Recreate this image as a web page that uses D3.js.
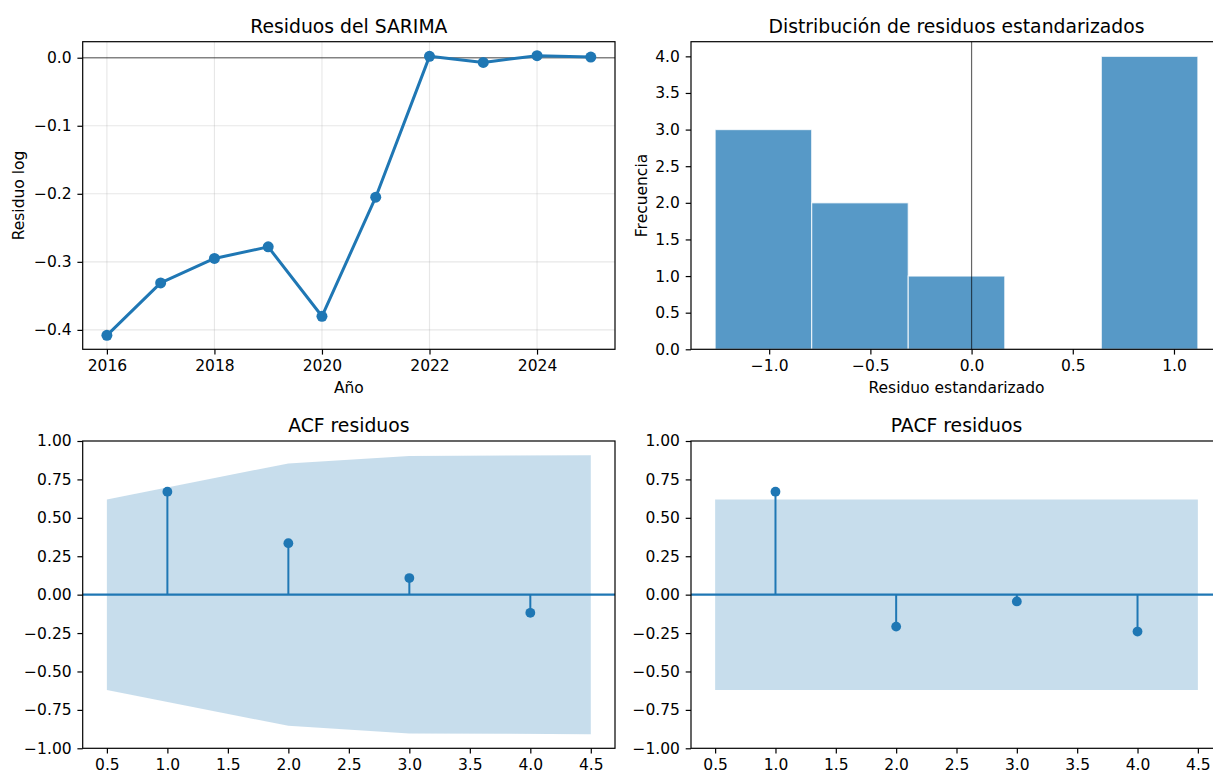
<!DOCTYPE html>
<html><head><meta charset="utf-8">
<script src="https://cdn.jsdelivr.net/npm/d3@7"></script>
<style>
body{margin:0;background:#fff;}
svg{display:block;font-family:"DejaVu Sans",sans-serif;}
</style></head>
<body><svg id="c" width="1213" height="773"></svg>
<script>
// ---- data ----
const years = [2016,2017,2018,2019,2020,2021,2022,2023,2024,2025];
const residuals = [-0.408,-0.331,-0.295,-0.278,-0.380,-0.205,0.002,-0.007,0.003,0.001];
const histEdges = [-1.267,-0.790,-0.313,0.164,0.641,1.118];
const histCounts = [3,2,1,0,4];
const lags = [1,2,3,4];
const acfValues = [0.670,0.335,0.108,-0.118];
const acfConf = [0.620,0.854,0.903,0.908];
const pacfValues = [0.670,-0.208,-0.044,-0.240];
const pacfConf = [0.620,0.620,0.620,0.620];
const yearTicks = [2016,2018,2020,2022,2024];
const residTicks = [0.0,-0.1,-0.2,-0.3,-0.4];
const histXTicks = [-1.0,-0.5,0.0,0.5,1.0];
const histYTicks = [0,0.5,1,1.5,2,2.5,3,3.5,4];
const corrYTicks = [1,0.75,0.5,0.25,0,-0.25,-0.5,-0.75,-1];
const lagTicks = [0.5,1,1.5,2,2.5,3,3.5,4,4.5];
const titles = ["Residuos del SARIMA","Distribución de residuos estandarizados","ACF residuos","PACF residuos"];

const BLUE = "#1f77b4";
const FS = 15.5, TFS = 18.8, TL = 5.3, TP = 5.8, SW = 1.2;
const svg = d3.select("#c");
const cols = [[82.7,615],[691,1222]];
const rows = [[41.7,349.3],[441,748.3]];
const fmtMinus = s => s.replace("-", "\u2212");

function frame(g, xs, ys, xt, yt, xf, yf, title, xlabel, ylabel, ylabX){
  const [x0,x1] = xs.range(), [y1,y0] = ys.range();
  const ax = g.append("g").attr("transform",`translate(0,${y1})`)
    .call(d3.axisBottom(xs).tickValues(xt).tickFormat(d=>fmtMinus(xf(d))).tickSizeOuter(0).tickSize(TL).tickPadding(TP-0.8));
  const ay = g.append("g").attr("transform",`translate(${x0},0)`)
    .call(d3.axisLeft(ys).tickValues(yt).tickFormat(d=>fmtMinus(yf(d))).tickSizeOuter(0).tickSize(TL).tickPadding(TP));
  [ax,ay].forEach(a=>{
    a.select(".domain").remove();
    a.selectAll(".tick line").attr("stroke","#000").attr("stroke-width",SW);
    a.selectAll(".tick text").attr("fill","#000").attr("font-size",FS).attr("font-family","DejaVu Sans");
  });
  g.append("rect").attr("x",x0).attr("y",y0).attr("width",x1-x0).attr("height",y1-y0)
    .attr("fill","none").attr("stroke","#000").attr("stroke-width",SW);
  g.append("text").attr("x",(x0+x1)/2).attr("y",y0-9.2).attr("text-anchor","middle")
    .attr("font-size",TFS).attr("fill","#000").text(title);
  if(xlabel) g.append("text").attr("x",(x0+x1)/2).attr("y",y1+43.5).attr("text-anchor","middle")
    .attr("font-size",FS).attr("fill","#000").text(xlabel);
  if(ylabel) g.append("text").attr("transform",`translate(${ylabX},${(y0+y1)/2}) rotate(-90)`)
    .attr("text-anchor","middle").attr("font-size",FS).attr("fill","#000").text(ylabel);
}
function pad(ext, m){ const r = ext[1]-ext[0]; return [ext[0]-m*r, ext[1]+m*r]; }

// ---- Panel 1: residuals line ----
{
  const g = svg.append("g");
  const x = d3.scaleLinear().domain(pad(d3.extent(years),0.05)).range(cols[0]);
  const y = d3.scaleLinear().domain(pad(d3.extent(residuals),0.05)).range([rows[0][1],rows[0][0]]);
  g.selectAll(".gx").data(yearTicks).join("line").attr("x1",d=>x(d)).attr("x2",d=>x(d))
    .attr("y1",rows[0][0]).attr("y2",rows[0][1]).attr("stroke","#b0b0b0").attr("stroke-opacity",0.3).attr("stroke-width",1.1);
  g.selectAll(".gy").data(residTicks).join("line").attr("y1",d=>y(d)).attr("y2",d=>y(d))
    .attr("x1",cols[0][0]).attr("x2",cols[0][1]).attr("stroke","#b0b0b0").attr("stroke-opacity",0.3).attr("stroke-width",1.1);
  g.append("line").attr("x1",cols[0][0]).attr("x2",cols[0][1]).attr("y1",y(0)).attr("y2",y(0))
    .attr("stroke","#000").attr("stroke-opacity",0.45).attr("stroke-width",1.6);
  const pts = years.map((d,i)=>[d,residuals[i]]);
  g.append("path").attr("d",d3.line().x(d=>x(d[0])).y(d=>y(d[1]))(pts))
    .attr("fill","none").attr("stroke",BLUE).attr("stroke-width",3).attr("stroke-linejoin","round");
  g.selectAll(".pt").data(pts).join("circle").attr("cx",d=>x(d[0])).attr("cy",d=>y(d[1])).attr("r",5.5).attr("fill",BLUE);
  frame(g,x,y,yearTicks,residTicks,d=>String(d),d=>d3.format(".1f")(d),titles[0],"Año","Residuo log",23.5);
}
// ---- Panel 2: histogram ----
{
  const g = svg.append("g");
  const x = d3.scaleLinear().domain(pad(d3.extent(histEdges),0.05)).range(cols[1]);
  const y = d3.scaleLinear().domain([0, d3.max(histCounts)*1.05]).range([rows[0][1],rows[0][0]]);
  const bins = histCounts.map((c,i)=>({x0:histEdges[i],x1:histEdges[i+1],c}));
  g.selectAll(".bar").data(bins.filter(b=>b.c>0)).join("rect")
    .attr("x",d=>x(d.x0)).attr("width",d=>x(d.x1)-x(d.x0))
    .attr("y",d=>y(d.c)).attr("height",d=>y(0)-y(d.c))
    .attr("fill","#5799c7").attr("stroke","#fff").attr("stroke-opacity",0.75).attr("stroke-width",1.2);
  g.append("line").attr("x1",x(0)).attr("x2",x(0)).attr("y1",rows[0][0]).attr("y2",rows[0][1])
    .attr("stroke","#000").attr("stroke-opacity",0.6).attr("stroke-width",1.2);
  frame(g,x,y,histXTicks,histYTicks,d=>d3.format(".1f")(d),d=>d3.format(".1f")(d),titles[1],"Residuo estandarizado","Frecuencia",647);
}
// ---- Panels 3/4: ACF & PACF ----
function corrPanel(col, vals, conf, title){
  const g = svg.append("g");
  const xd = pad([d3.min(lags)-0.5, d3.max(lags)+0.5],0.05);
  const xs = d3.scaleLinear().domain(xd).range(cols[col]);
  const ys = d3.scaleLinear().domain([-1,1]).range([rows[1][1],rows[1][0]]);
  const bandX = lags.map((l,i)=> i===0 ? l-0.5 : (i===lags.length-1 ? l+0.5 : l));
  const band = bandX.map((bx,i)=>({x:bx,c:conf[i]}));
  g.append("path").attr("d",d3.area().x(d=>xs(d.x)).y0(d=>ys(-d.c)).y1(d=>ys(d.c))(band))
    .attr("fill",BLUE).attr("fill-opacity",0.25);
  g.append("line").attr("x1",cols[col][0]).attr("x2",cols[col][1]).attr("y1",ys(0)).attr("y2",ys(0))
    .attr("stroke",BLUE).attr("stroke-width",2.2);
  g.selectAll(".stem").data(lags).join("line").attr("x1",d=>xs(d)).attr("x2",d=>xs(d))
    .attr("y1",ys(0)).attr("y2",(d,i)=>ys(vals[i])).attr("stroke",BLUE).attr("stroke-width",2);
  g.selectAll(".dot").data(lags).join("circle").attr("cx",d=>xs(d)).attr("cy",(d,i)=>ys(vals[i])).attr("r",4.9).attr("fill",BLUE);
  frame(g,xs,ys,lagTicks,corrYTicks,d=>d3.format(".1f")(d),d=>d3.format(".2f")(d),title,null,null,0);
}
corrPanel(0, acfValues, acfConf, titles[2]);
corrPanel(1, pacfValues, pacfConf, titles[3]);
</script></body></html>
